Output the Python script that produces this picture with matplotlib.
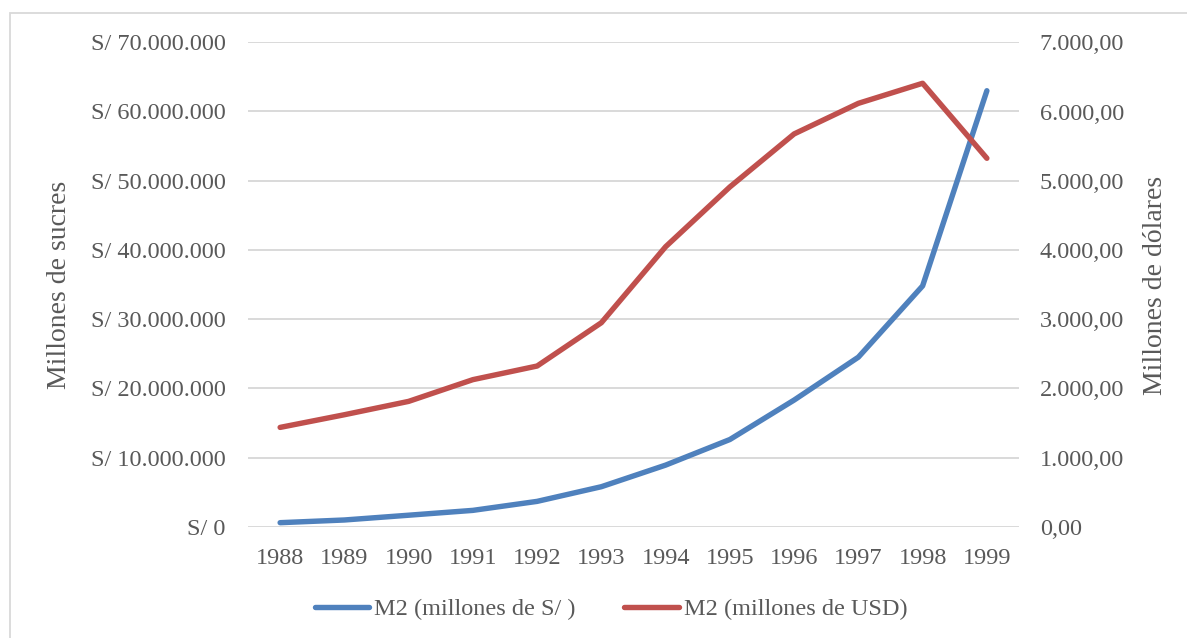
import matplotlib
matplotlib.use("Agg")
import matplotlib.pyplot as plt
from matplotlib.patches import Rectangle
from matplotlib.ticker import FuncFormatter

years = ["1988", "1989", "1990", "1991", "1992", "1993", "1994", "1995", "1996", "1997", "1998", "1999"]
m2_sucres = [580000, 970000, 1660000, 2360000, 3660000, 5780000, 8900000, 12600000, 18300000, 24500000, 34800000, 63000000]
m2_usd = [1435, 1618, 1811, 2125, 2322, 2948, 4046, 4910, 5676, 6118, 6408, 5324]

label_left = "Millones de sucres"
label_right = "Millones de dólares"
series_names = ["M2 (millones de S/ )", "M2 (millones de USD)"]

plt.rcParams["font.family"] = ["Liberation Serif", "DejaVu Serif"]
TXT = "#595959"
BLUE = "#4F81BD"
RED = "#C0504D"

fig = plt.figure(figsize=(11.87, 6.38), dpi=100)
W, H = 1187, 638
ax = fig.add_axes([248 / W, 1 - 526.7 / H, (1019 - 248) / W, (526.7 - 42.3) / H])
ax2 = ax.twinx()

x = list(range(len(years)))
l1, = ax.plot(x, m2_sucres, color=BLUE, lw=3.9, solid_capstyle="round", solid_joinstyle="round", zorder=3)
l2, = ax2.plot(x, m2_usd, color=RED, lw=3.9, solid_capstyle="round", solid_joinstyle="round", zorder=3)

ax.set_xlim(-0.5, 11.5)
ax.set_ylim(0, 70000000)
ax2.set_ylim(0, 7000)
ax.set_yticks(range(0, 70000001, 10000000))
ax2.set_yticks(range(0, 7001, 1000))
ax.set_xticks(x)
ax.set_xticklabels(years)

def fmt_left(v, pos):
    v = int(round(v))
    if v == 0:
        return "S/ 0"
    return "S/ " + f"{v:,}".replace(",", ".")

def fmt_right(v, pos):
    s = f"{v:,.2f}"
    return s.replace(",", "X").replace(".", ",").replace("X", ".")

ax.yaxis.set_major_formatter(FuncFormatter(fmt_left))
ax2.yaxis.set_major_formatter(FuncFormatter(fmt_right))

ax.grid(axis="y", color="#D9D9D9", lw=1.4, zorder=0)
ax.set_axisbelow(True)
for a in (ax, ax2):
    for s in a.spines.values():
        s.set_visible(False)
    a.tick_params(length=0, colors=TXT, labelsize=17.5)
ax.tick_params(axis="y", pad=16)
ax.tick_params(axis="x", pad=15.5)
ax2.tick_params(axis="y", pad=15)

fig.text(60 / W, 1 - 285 / H, label_left, rotation=90, ha="center", va="center",
         color=TXT, fontsize=20)
fig.text(1155 / W, 1 - 285 / H, label_right, rotation=90, ha="center", va="center",
         color=TXT, fontsize=20)

fig.legend([l1, l2], series_names, loc="center", bbox_to_anchor=(611 / W, 1 - 609 / H),
           ncol=2, frameon=False, fontsize=17.5, labelcolor=TXT, handlelength=2.25,
           columnspacing=2.0, handletextpad=0.2)

fig.patches.append(Rectangle((10 / W, -0.1), 1.2, 1 - 13 / H + 0.1, transform=fig.transFigure,
                             fill=False, edgecolor="#D9D9D9", lw=1.3))

fig.savefig("out.png", dpi=100)
